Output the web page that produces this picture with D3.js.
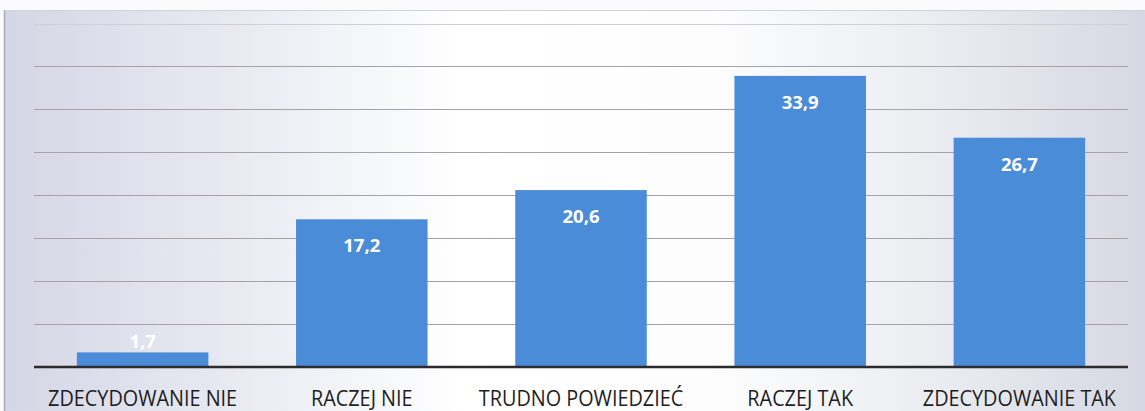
<!DOCTYPE html>
<html><head><meta charset="utf-8">
<script src="https://cdn.jsdelivr.net/npm/d3@7"></script>
<style>html,body{margin:0;padding:0;background:#fff;}svg{display:block;}</style>
</head><body>
<script>
const categories = ["ZDECYDOWANIE NIE","RACZEJ NIE","TRUDNO POWIEDZIEĆ","RACZEJ TAK","ZDECYDOWANIE TAK"];
const values = [1.7, 17.2, 20.6, 33.9, 26.7];
const valueLabels = ["1,7","17,2","20,6","33,9","26,7"];
const gridTicks = [5,10,15,20,25,30,35,40];

const W = 1145, H = 411;
const svg = d3.select("body").append("svg").attr("width", W).attr("height", H);
const defs = svg.append("defs");
const g1 = defs.append("linearGradient").attr("id","bg").attr("x1","0").attr("x2","1").attr("y1","0").attr("y2","0");
[["0%","#d4d6e5"],["20%","#e8eaf2"],["40%","#ffffff"],["62%","#fdfdfd"],["82%","#eaecf1"],["100%","#d6d8e3"]].forEach(s=>g1.append("stop").attr("offset",s[0]).attr("stop-color",s[1]));

svg.append("rect").attr("x",0).attr("y",0).attr("width",W).attr("height",H).attr("fill","#fbfbfd");
svg.append("rect").attr("x",5).attr("y",10).attr("width",W-5).attr("height",H-10).attr("fill","url(#bg)");
svg.append("line").attr("x1",4.5).attr("x2",4.5).attr("y1",10).attr("y2",H).attr("stroke","#a9abb3").attr("stroke-width",1.5);
svg.append("line").attr("x1",5).attr("x2",W).attr("y1",10.5).attr("y2",10.5).attr("stroke","#d0d2dc").attr("stroke-width",1);

const x = d3.scaleBand().domain(categories).range([33, 1129]).paddingInner(0.4).paddingOuter(0.2);
const y = d3.scaleLinear().domain([0, 40]).range([367, 23.5]);

// gridlines
svg.append("g").selectAll("line").data(gridTicks).join("line")
  .attr("x1", 34).attr("x2", 1128)
  .attr("y1", d => Math.round(y(d)) + 0.5).attr("y2", d => Math.round(y(d)) + 0.5)
  .attr("stroke", d => d === 40 ? "#cfd0d6" : "#a4a4a8").attr("stroke-width", 1);

// bars
svg.append("g").selectAll("rect").data(values).join("rect")
  .attr("x", (d,i) => x(categories[i]))
  .attr("width", x.bandwidth())
  .attr("y", d => y(d))
  .attr("height", d => y(0) - y(d))
  .attr("fill", "#4b8cd8");

// baseline
svg.append("line").attr("x1",34).attr("x2",1128).attr("y1",y(0)).attr("y2",y(0))
  .attr("stroke","#2b2b2e").attr("stroke-width",2.5);

// value labels
svg.append("g").selectAll("text").data(values).join("text")
  .attr("x", (d,i) => x(categories[i]) + x.bandwidth()/2)
  .attr("y", d => (y(0) - y(d) > 40) ? y(d) + 33 : y(d) - 4)
  .attr("text-anchor","middle")
  .attr("font-family","Open Sans, sans-serif")
  .attr("font-weight","bold")
  .attr("font-size", 18.5)
  .attr("fill", "#ffffff")
  .text((d,i) => valueLabels[i]);

// category labels (Calibri-like: taller, condensed)
const sx = 0.88;
const catText = svg.append("g").selectAll("text").data(categories).join("text")
  .attr("transform", d => `translate(${x(d) + x.bandwidth()/2},406) scale(${sx},1)`)
  .attr("text-anchor","middle")
  .attr("font-family","Open Sans, sans-serif")
  .attr("font-size", 16)
  .attr("fill", "#1e1e1e")
  .text(d => d);
const w0 = catText.nodes()[0].getComputedTextLength();
catText.attr("font-size", 16 * 189 / (w0 * sx));
</script>
</body></html>
